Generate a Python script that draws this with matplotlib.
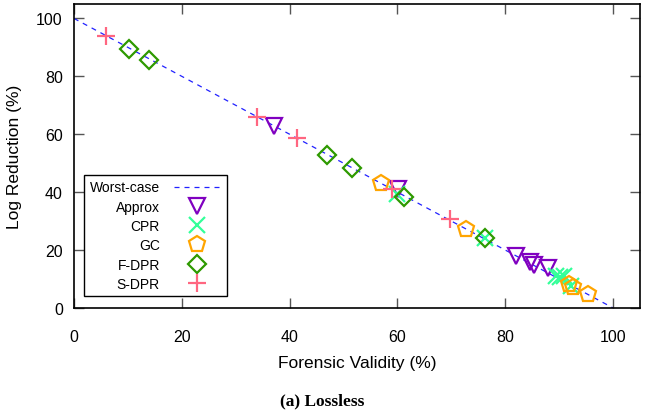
import matplotlib
matplotlib.use('Agg')
import matplotlib.pyplot as plt

# valeurs
approx_x = [37.2, 60.2, 82.0, 84.6, 85.3, 87.9]
approx_y = [63.0, 41.2, 18.0, 15.9, 14.9, 13.8]

cpr_x = [60.0, 76.2, 89.4, 90.1, 90.9, 92.2]
cpr_y = [39.4, 24.2, 11.1, 10.7, 11.1, 7.6]

gc_x = [56.9, 72.7, 91.8, 92.6, 95.4]
gc_y = [43.3, 27.3, 8.3, 7.3, 4.8]

fdpr_x = [10.2, 13.9, 47.0, 51.5, 61.2, 76.2]
fdpr_y = [89.3, 85.8, 52.9, 48.4, 38.4, 24.2]

sdpr_x = [5.9, 34.0, 41.3, 59.1, 69.7]
sdpr_y = [93.8, 66.1, 58.8, 41.2, 30.8]

worst_x = [0, 100]
worst_y = [100, 0]

plt.rcParams['font.family'] = 'Liberation Sans'

fig = plt.figure(figsize=(6.45, 4.14), dpi=100)
ax = fig.add_axes([0.1147, 0.254, 0.8773, 0.734])

ax.plot(worst_x, worst_y, color='#2222ff', lw=0.9, ls=(0, (4, 4)), label='Worst-case')
ax.plot(approx_x, approx_y, 'v', ms=12, mfc='none', mec='#8000c0', mew=1.6, label='Approx')
ax.plot(cpr_x, cpr_y, 'x', ms=12, mec='#33ff99', mew=1.6, label='CPR')
ax.plot(gc_x, gc_y, 'p', ms=12, mfc='none', mec='#ffa500', mew=1.6, label='GC')
ax.plot(fdpr_x, fdpr_y, 'D', ms=9, mfc='none', mec='#2e9900', mew=1.6, label='F-DPR')
ax.plot(sdpr_x, sdpr_y, '+', ms=13, mec='#ff6680', mew=1.6, label='S-DPR')

ax.set_xlim(0, 105)
ax.set_ylim(0, 105)
ax.set_xticks([0, 20, 40, 60, 80, 100])
ax.set_yticks([0, 20, 40, 60, 80, 100])
ax.tick_params(direction='in', length=7, width=1, color='#555555',
               top=True, right=True, labelsize=11.5)
ax.tick_params(axis='x', pad=15)
ax.tick_params(axis='y', pad=8)
for s in ax.spines.values():
    s.set_linewidth(1.2)

ax.set_xlabel('Forensic Validity (%)', fontsize=12.5, labelpad=8)
ax.set_ylabel('Log Reduction (%)', fontsize=12.5, labelpad=10)

leg = ax.legend(loc='upper left', bbox_to_anchor=(0.018, 0.4375), markerfirst=False,
                fontsize=10, handlelength=3.4, fancybox=False, framealpha=1,
                edgecolor='black', borderpad=0.4, labelspacing=0.38, handletextpad=1.0,
                borderaxespad=0)
leg.get_frame().set_linewidth(1.0)

fig.text(0.5, 0.03, '(a) Lossless', ha='center', va='center', fontsize=12.5,
         fontweight='bold', family='Liberation Serif')

fig.savefig('out.png', dpi=100)
